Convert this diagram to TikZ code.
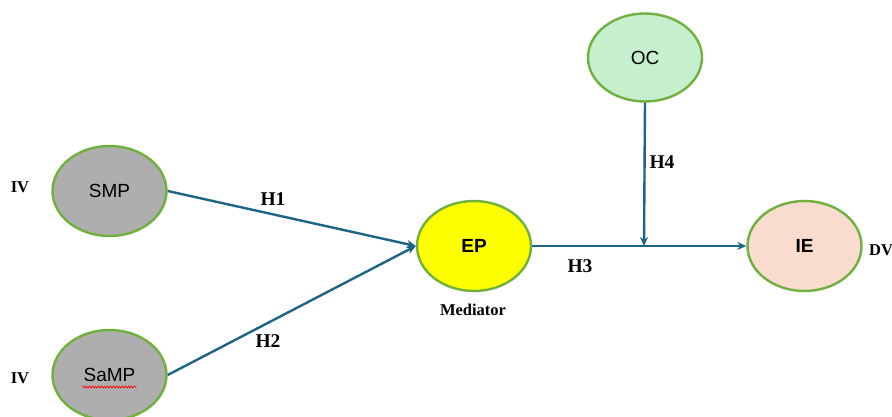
\documentclass[tikz,border=0pt]{standalone}
\usepackage{fontspec}
\setmainfont{Liberation Serif}
\newfontfamily\arialfont{Liberation Sans}
\usetikzlibrary{shapes.geometric,arrows.meta,decorations.pathmorphing}
\definecolor{ringgreen}{RGB}{112,176,62}
\definecolor{greyfill}{RGB}{174,174,174}
\definecolor{ocfill}{RGB}{198,239,206}
\definecolor{iefill}{RGB}{250,220,206}
\definecolor{epfill}{RGB}{255,255,0}
\definecolor{pathblue}{RGB}{31,100,135}
\tikzset{
  construct/.style={ellipse, draw=ringgreen, line width=2.4pt, minimum width=114pt,
    minimum height=90pt, inner sep=0pt, font=\arialfont\fontsize{19}{21}\selectfont},
  boldconstruct/.style={construct, font=\arialfont\bfseries\fontsize{19}{21}\selectfont},
  path arrow/.style={draw=pathblue, line width=2.4pt, -{Stealth[length=9pt,width=8pt]}},
  hlabel/.style={font=\bfseries\fontsize{19.5}{21}\selectfont, inner sep=0pt},
  rolelabel/.style={font=\bfseries\fontsize{16.5}{18}\selectfont, inner sep=0pt}
}
\begin{document}
\begin{tikzpicture}[x=1pt,y=-1pt]
  \useasboundingbox (0,0) rectangle (892,417);
  \begin{scope}
    \clip (0,0) rectangle (892,417);
    % constructs
    \node[construct, fill=greyfill] (smp) at (109.5,191) {SMP};
    \node[construct, fill=greyfill] (samp) at (109.5,375) {SaMP};
    \node[boldconstruct, fill=epfill] (ep) at (474,246) {EP};
    \node[construct, fill=ocfill, minimum height=88pt] (oc) at (645,57.5) {OC};
    \node[boldconstruct, fill=iefill] (ie) at (804.5,246) {IE};
    % spell-check underline under SaMP
    \draw[red, line width=0.7pt, decorate,
      decoration={snake, amplitude=1pt, segment length=3pt}]
      ([xshift=-27pt,yshift=-12pt]samp.center) -- ([xshift=27pt,yshift=-12pt]samp.center);
    % paths
    \coordinate (junction) at (644,246);
    \draw[path arrow] (smp.east) -- (ep.west);
    \draw[path arrow] (samp.east) -- (ep.west);
    \draw[path arrow] (ep.east) -- (ie.west);
    \draw[path arrow] (oc.south) -- (junction);
    % hypothesis labels
    \node[hlabel] (h1) at (273,199) {H1};
    \node[hlabel] (h2) at (268,341) {H2};
    \node[hlabel] (h3) at (580,266) {H3};
    \node[hlabel] (h4) at (662,162) {H4};
    % role labels
    \node[rolelabel] (iv1) at (20,187) {IV};
    \node[rolelabel] (iv2) at (20,378) {IV};
    \node[rolelabel] (med) at (473,310) {Mediator};
    \node[rolelabel, anchor=west] (dv) at (869,250) {DV};
  \end{scope}
\end{tikzpicture}
\end{document}
